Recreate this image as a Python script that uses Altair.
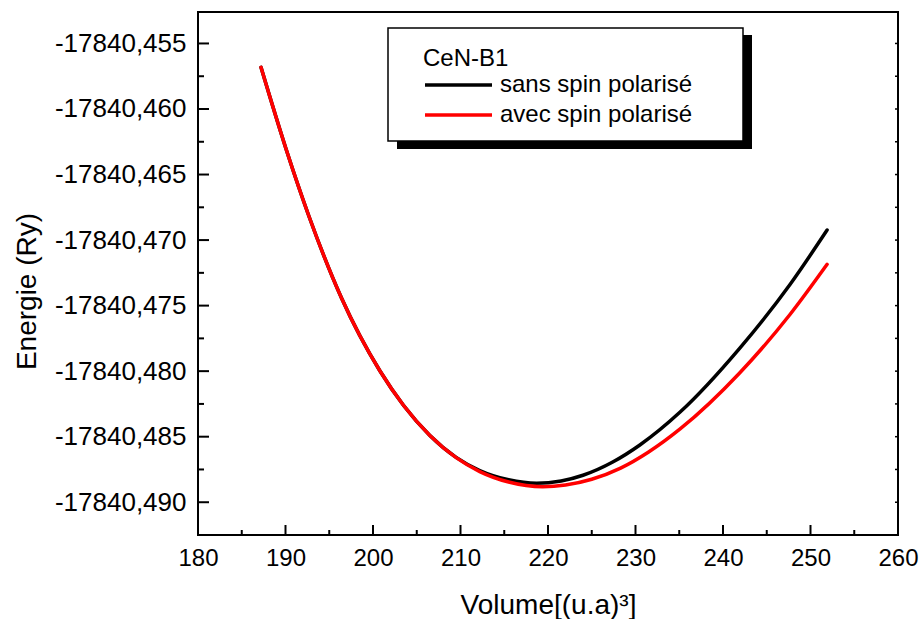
import altair as alt
import pandas as pd

# ---- data ----
volume_sans = [187.2, 190.1, 192.7, 196.4, 200.8, 203.5, 206.5, 209.5, 212.2, 215.5, 218.7, 221.5,
               224.0, 227.4, 230.5, 235.1, 241.9, 247.7, 251.9]
energie_sans = [-17840.45682, -17840.46313, -17840.46822, -17840.47442, -17840.47999, -17840.48262,
                -17840.48491, -17840.48658, -17840.48758, -17840.48829, -17840.48856, -17840.48838,
                -17840.48794, -17840.48693, -17840.48563, -17840.48312, -17840.47826, -17840.47335,
                -17840.46923]
volume_avec = [187.2, 190.1, 192.7, 196.4, 200.8, 203.5, 206.5, 209.5, 212.2, 215.5, 219.4, 222.0,
               225.0, 228.3, 231.5, 235.1, 241.9, 247.7, 251.9]
energie_avec = [-17840.45682, -17840.46313, -17840.46822, -17840.47442, -17840.47999, -17840.48262,
                -17840.48491, -17840.48660, -17840.48766, -17840.48846, -17840.48882, -17840.48869,
                -17840.48825, -17840.48740, -17840.48617, -17840.48441, -17840.48014, -17840.47564,
                -17840.47185]

series_names = ["sans spin polarisé", "avec spin polarisé"]
series_colors = ["#000000", "#ff0000"]
legend_title = "CeN-B1"

x_major = [180, 190, 200, 210, 220, 230, 240, 250, 260]
x_minor = [185, 195, 205, 215, 225, 235, 245, 255]
y_major = [-17840.455, -17840.460, -17840.465, -17840.470, -17840.475, -17840.480, -17840.485, -17840.490]
y_minor = [-17840.4575, -17840.4625, -17840.4675, -17840.4725, -17840.4775, -17840.4825, -17840.4875]

x_domain = [180, 260]
y_domain = [-17840.4925, -17840.4526]

W, H = 700, 523
FONT = "Liberation Sans"

df_sans = pd.DataFrame({"V": volume_sans, "E": energie_sans, "serie": series_names[0]})
df_avec = pd.DataFrame({"V": volume_avec, "E": energie_avec, "serie": series_names[1]})
df_xmaj = pd.DataFrame({"V": x_major})
df_xmin = pd.DataFrame({"V": x_minor})
df_ymaj = pd.DataFrame({"E": y_major})
df_ymin = pd.DataFrame({"E": y_minor})

xscale = alt.Scale(domain=x_domain, nice=False, zero=False)
yscale = alt.Scale(domain=y_domain, nice=False, zero=False)

x_axis = alt.Axis(values=x_major, title="Volume[(u.a)³]", ticks=False, domain=False, grid=False,
                  labelFont=FONT, labelFontSize=24, labelColor="black", labelPadding=11,
                  titleFont=FONT, titleFontSize=28, titleFontWeight="normal", titleColor="black",
                  titleY=56, labelFlush=False, labelOverlap=False)
y_axis = alt.Axis(values=y_major, title="Energie (Ry)", ticks=False, domain=False, grid=False,
                  labelFont=FONT, labelFontSize=26, labelColor="black", labelPadding=12,
                  labelExpr="'-' + replace(format(abs(datum.value), '.3f'), '.', ',')",
                  titleFont=FONT, titleFontSize=28, titleFontWeight="normal", titleColor="black",
                  titleX=-157, titleY=279, labelFlush=False, labelOverlap=False)

X = alt.X("V:Q", scale=xscale, axis=x_axis)
Y = alt.Y("E:Q", scale=yscale, axis=y_axis)

color_enc = alt.Color(
    "serie:N",
    scale=alt.Scale(domain=series_names, range=series_colors),
    legend=alt.Legend(
        orient="none", legendX=225, legendY=35, padding=0,
        title=legend_title, titleFont=FONT, titleFontSize=24, titleFontWeight="normal",
        titleColor="black", titlePadding=2, titleLimit=400,
        labelFont=FONT, labelFontSize=24, labelColor="black", labelLimit=400, labelOffset=6,
        symbolType="stroke", symbolSize=67 * 67, symbolStrokeWidth=3.5, clipHeight=24,
        rowPadding=6,
    ),
)

# legend box decoration (shadow + framed white box)
shadow = alt.Chart(pd.DataFrame({"k": [0]})).mark_rect(color="black").encode(
    x=alt.value(199), x2=alt.value(554), y=alt.value(23), y2=alt.value(137))
box = alt.Chart(pd.DataFrame({"k": [0]})).mark_rect(fill="white", stroke="black", strokeWidth=1.5).encode(
    x=alt.value(190), x2=alt.value(545), y=alt.value(16), y2=alt.value(129))

line_sans = alt.Chart(df_sans).mark_line(strokeWidth=3.5, interpolate="monotone", strokeCap="round").encode(
    x=X, y=Y, color=color_enc)
line_avec = alt.Chart(df_avec).mark_line(strokeWidth=3.5, interpolate="monotone", strokeCap="round").encode(
    x=X, y=Y, color=color_enc)

tick_style = dict(color="black", strokeWidth=2)
xt_major = alt.Chart(df_xmaj).mark_rule(**tick_style).encode(
    x=X, y=alt.value(H), y2=alt.value(H - 10))
xt_minor = alt.Chart(df_xmin).mark_rule(**tick_style).encode(
    x=X, y=alt.value(H), y2=alt.value(H - 5))
yt_major = alt.Chart(df_ymaj).mark_rule(**tick_style).encode(
    y=Y, x=alt.value(0), x2=alt.value(11))
yt_minor = alt.Chart(df_ymin).mark_rule(**tick_style).encode(
    y=Y, x=alt.value(0), x2=alt.value(6))
yr_major = alt.Chart(df_ymaj).mark_rule(color="black", strokeWidth=1.5).encode(
    y=Y, x=alt.value(W), x2=alt.value(W - 3))
yr_minor = alt.Chart(df_ymin).mark_rule(color="black", strokeWidth=1.5).encode(
    y=Y, x=alt.value(W), x2=alt.value(W - 3))

chart = alt.layer(
    shadow, box, line_sans, line_avec,
    xt_major, xt_minor, yt_major, yt_minor, yr_major, yr_minor,
).properties(
    width=W, height=H,
    autosize=alt.AutoSizeParams(type="none"),
    padding={"left": 198, "top": 12, "right": 23, "bottom": 84},
).configure(
    background="white",
    view=alt.ViewConfig(stroke="black", strokeWidth=2, fill="white"),
)

chart.save("out.html", embed_options={"renderer": "svg", "actions": False})
